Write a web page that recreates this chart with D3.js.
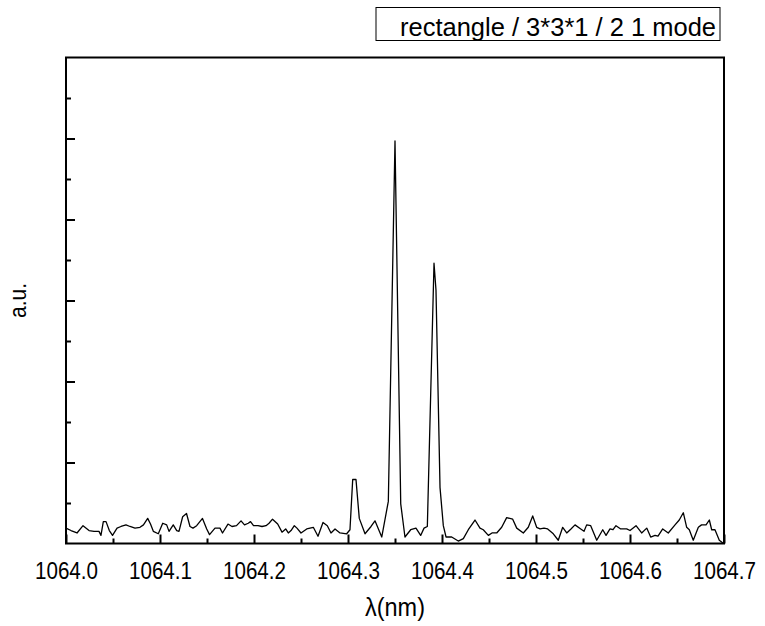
<!DOCTYPE html>
<html lang="en">
<head>
    <meta charset="UTF-8">
    <script src="https://d3js.org/d3.v7.min.js"></script>
    <title>spectrum</title>
    <style>
      body { margin: 0; background: #fff; }
      text { font-family: "Liberation Sans", Arial, sans-serif; fill: #000; }
      .axis path { display: none; }
      .axis line { stroke: #000; stroke-width: 2; }
    </style>
</head>
<body>
    <div id="container"></div>
<script>
    // wavelength (nm) and intensity (a.u.)
    var wavelength = [
        1064.0000, 1064.0053, 1064.0117, 1064.0181, 1064.0245, 1064.0298, 1064.0351, 1064.0372, 1064.0397, 1064.0426,
        1064.0461, 1064.0495, 1064.0543, 1064.0585, 1064.0638, 1064.0681, 1064.0734, 1064.0787, 1064.0824, 1064.0869,
        1064.0899, 1064.0929, 1064.0982, 1064.1029, 1064.1071, 1064.1096, 1064.1141, 1064.1178, 1064.1202, 1064.1241,
        1064.1282, 1064.1319, 1064.1351, 1064.1390, 1064.1452, 1064.1497, 1064.1527, 1064.1585, 1064.1638, 1064.1665,
        1064.1723, 1064.1766, 1064.1814, 1064.1862, 1064.1899, 1064.1939, 1064.1963, 1064.1995, 1064.2043, 1064.2085,
        1064.2128, 1064.2160, 1064.2197, 1064.2252, 1064.2298, 1064.2337, 1064.2365, 1064.2394, 1064.2429, 1064.2457,
        1064.2500, 1064.2561, 1064.2596, 1064.2631, 1064.2681, 1064.2734, 1064.2780, 1064.2819, 1064.2862, 1064.2915,
        1064.2986, 1064.3021, 1064.3050, 1064.3085, 1064.3120, 1064.3181, 1064.3245, 1064.3287, 1064.3359, 1064.3429,
        1064.3500, 1064.3561, 1064.3606, 1064.3667, 1064.3723, 1064.3773, 1064.3809, 1064.3844, 1064.3915, 1064.3936,
        1064.3979, 1064.4014, 1064.4043, 1064.4103, 1064.4173, 1064.4227, 1064.4280, 1064.4351, 1064.4404, 1064.4439,
        1064.4493, 1064.4532, 1064.4582, 1064.4635, 1064.4688, 1064.4752, 1064.4795, 1064.4865, 1064.4918, 1064.4965,
        1064.5007, 1064.5043, 1064.5085, 1064.5124, 1064.5184, 1064.5237, 1064.5284, 1064.5327, 1064.5372, 1064.5415,
        1064.5476, 1064.5511, 1064.5539, 1064.5582, 1064.5646, 1064.5710, 1064.5745, 1064.5787, 1064.5819, 1064.5851,
        1064.5901, 1064.5965, 1064.6000, 1064.6064, 1064.6124, 1064.6178, 1064.6220, 1064.6266, 1064.6298, 1064.6348,
        1064.6407, 1064.6479, 1064.6524, 1064.6567, 1064.6603, 1064.6631, 1064.6673, 1064.6727, 1064.6761, 1064.6809,
        1064.6844, 1064.6869, 1064.6904, 1064.6950, 1064.6995
    ];
    var intensity = [
        0.19, 0.16, 0.13, 0.22, 0.16, 0.15, 0.15, 0.10, 0.27, 0.27,
        0.16, 0.10, 0.19, 0.21, 0.23, 0.21, 0.19, 0.20, 0.23, 0.31,
        0.24, 0.15, 0.12, 0.25, 0.23, 0.15, 0.23, 0.16, 0.15, 0.33,
        0.37, 0.21, 0.19, 0.22, 0.31, 0.18, 0.11, 0.19, 0.19, 0.13,
        0.24, 0.21, 0.22, 0.28, 0.23, 0.25, 0.27, 0.22, 0.22, 0.21,
        0.22, 0.25, 0.30, 0.24, 0.14, 0.18, 0.13, 0.16, 0.22, 0.19,
        0.13, 0.18, 0.19, 0.20, 0.09, 0.26, 0.22, 0.13, 0.18, 0.13,
        0.12, 0.17, 0.79, 0.79, 0.31, 0.12, 0.21, 0.28, 0.08, 0.52,
        4.97, 0.49, 0.08, 0.17, 0.19, 0.10, 0.19, 0.21, 3.46, 3.13,
        0.69, 0.22, 0.08, 0.08, 0.03, 0.06, 0.17, 0.29, 0.19, 0.17,
        0.10, 0.13, 0.13, 0.20, 0.32, 0.30, 0.19, 0.13, 0.20, 0.34,
        0.20, 0.18, 0.19, 0.18, 0.12, 0.04, 0.20, 0.13, 0.18, 0.23,
        0.18, 0.15, 0.23, 0.22, 0.04, 0.17, 0.10, 0.18, 0.17, 0.22,
        0.18, 0.18, 0.16, 0.22, 0.13, 0.19, 0.08, 0.10, 0.09, 0.18,
        0.13, 0.23, 0.29, 0.38, 0.20, 0.17, 0.04, 0.20, 0.23, 0.23,
        0.29, 0.17, 0.17, 0.04, 0.00
    ];
    var x_major = [1064.0, 1064.1, 1064.2, 1064.3, 1064.4, 1064.5, 1064.6, 1064.7];
    var x_minor = [1064.05, 1064.15, 1064.25, 1064.35, 1064.45, 1064.55, 1064.65];
    var y_major = [1, 2, 3, 4, 5];
    var y_minor = [0.5, 1.5, 2.5, 3.5, 4.5, 5.5];
    var legend_label = "rectangle / 3*3*1 / 2 1 mode";

    var svg_width = 765, svg_height = 626,
        margin = {top: 57.5, left: 66, right: 41, bottom: 82.5},
        chart_width = svg_width - margin.left - margin.right,
        chart_height = svg_height - margin.top - margin.bottom;

    var x_scale = d3.scaleLinear().domain([1064.0, 1064.7]).range([0, chart_width]);
    var y_scale = d3.scaleLinear().domain([0, 6]).range([chart_height, 0]);

    var svg = d3.select("#container").append("svg")
        .attr("width", svg_width).attr("height", svg_height);
    var chart = svg.append("g")
        .attr("transform", `translate(${margin.left},${margin.top})`);

    // x axis: major ticks with labels, minor ticks without, both pointing inward
    chart.append("g").attr("class", "axis")
        .attr("transform", `translate(0,${chart_height})`)
        .call(d3.axisBottom(x_scale).tickValues(x_minor).tickSize(-5).tickFormat(""));
    var xa = chart.append("g").attr("class", "axis")
        .attr("transform", `translate(0,${chart_height})`)
        .call(d3.axisBottom(x_scale).tickValues(x_major).tickSize(-9).tickPadding(18).tickFormat(d3.format(".1f")));
    // narrow, tall glyphs like the original
    xa.selectAll("text")
        .style("font-size", "24px")
        .attr("textLength", 63)
        .attr("lengthAdjust", "spacingAndGlyphs");

    // y axis: ticks only
    chart.append("g").attr("class", "axis")
        .call(d3.axisLeft(y_scale).tickValues(y_minor).tickSize(-5).tickFormat(""));
    chart.append("g").attr("class", "axis")
        .call(d3.axisLeft(y_scale).tickValues(y_major).tickSize(-9).tickFormat(""));

    // spectrum
    var pts = wavelength.map((w, i) => [w, intensity[i]]);
    chart.append("path")
        .datum(pts)
        .attr("fill", "none")
        .attr("stroke", "#000")
        .attr("stroke-width", 1.3)
        .attr("stroke-linejoin", "round")
        .attr("d", d3.line().x(d => x_scale(d[0])).y(d => y_scale(d[1])));

    // frame
    chart.append("rect")
        .attr("width", chart_width).attr("height", chart_height)
        .attr("fill", "none").attr("stroke", "#000").attr("stroke-width", 2);

    // axis titles
    svg.append("text")
        .attr("x", margin.left + chart_width / 2).attr("y", 616)
        .attr("text-anchor", "middle")
        .style("font-size", "25px")
        .attr("textLength", 60)
        .attr("lengthAdjust", "spacingAndGlyphs")
        .text("λ(nm)");
    svg.append("text")
        .attr("transform", `translate(26,${margin.top + chart_height / 2}) rotate(-90)`)
        .attr("text-anchor", "middle")
        .style("font-size", "24px")
        .attr("textLength", 35)
        .attr("lengthAdjust", "spacingAndGlyphs")
        .text("a.u.");

    // legend box
    var lg = svg.append("g");
    lg.append("rect")
        .attr("x", 376).attr("y", 7.5).attr("width", 344).attr("height", 33)
        .attr("fill", "none").attr("stroke", "#000").attr("stroke-width", 1);
    lg.append("text")
        .attr("x", 400).attr("y", 36)
        .style("font-size", "26px")
        .attr("textLength", 316)
        .attr("lengthAdjust", "spacingAndGlyphs")
        .text(legend_label);
</script>
</body>
</html>
